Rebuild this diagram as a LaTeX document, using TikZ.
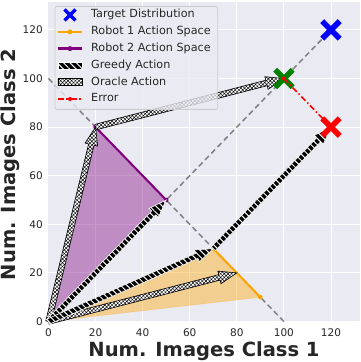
\documentclass[tikz,border=0pt]{standalone}
\usepackage{fontspec}
\setmainfont{DejaVu Sans}
\usepackage{tikz}
\usetikzlibrary{calc,positioning,shapes.misc,patterns.meta}
\definecolor{bgcol}{HTML}{EAEAF2}
\definecolor{txtcol}{HTML}{262626}
\definecolor{legedge}{HTML}{CCCCCC}
\definecolor{rbtorange}{HTML}{FFA500}
\definecolor{rbtpurple}{HTML}{800080}
\definecolor{mgreen}{HTML}{008000}
\newcommand{\actarrow}[3]{%
  \coordinate (ah) at ($(#3)!18pt!(#2)$);
  \path[#1] ($(#2)!2.8pt!90:(#3)$) -- ($(ah)!2.8pt!-90:(#2)$)
    -- ($(ah)!6.5pt!-90:(#2)$) -- (#3) -- ($(ah)!6.5pt!90:(#2)$)
    -- ($(ah)!2.8pt!90:(#2)$) -- ($(#2)!2.8pt!-90:(#3)$) -- cycle;}

\begin{document}
\begin{tikzpicture}[x=2.354pt, y=2.43pt,
    tick/.style={font=\fontsize{10.5}{10.5}\selectfont, text=txtcol, inner sep=0pt},
    axtitle/.style={font=\fontsize{19.5}{19.5}\selectfont\bfseries, text=txtcol, inner sep=0pt},
    legtext/.style={font=\fontsize{11.2}{11.2}\selectfont, text=txtcol, anchor=west, inner sep=0pt, text height=8pt, text depth=2pt},
    gridline/.style={white, line width=0.9pt},
    guide/.style={gray, line width=1.5pt, dash pattern=on 5.5pt off 3.5pt},
    xmark/.style={cross out, draw, line width=5.5pt, minimum size=12pt, inner sep=0pt},
    greedy/.style={preaction={fill=black}, pattern={Lines[angle=-45,distance=4.5pt,line width=1pt]}, pattern color=white, draw=white, line width=0.6pt},
    oracle/.style={preaction={fill=white}, pattern={Hatch[angle=45,distance=2.6pt,line width=0.45pt]}, pattern color=black, draw=black, line width=0.6pt},
    errline/.style={red, line width=1.6pt, dash pattern=on 6pt off 2.5pt on 1.5pt off 2.5pt},
    legbox/.style={draw=legedge, fill=bgcol, fill opacity=0.8, rounded corners=2pt, line width=0.8pt, inner sep=0pt}]
      \useasboundingbox (-48.5pt,-40.5pt) rectangle (311.5pt,321.5pt);
      \fill[bgcol] (0,0) rectangle (311.5pt,319.5pt);
      \foreach \v in {20,40,...,120} {
        \draw[gridline] (\v,0) -- (\v,131.5);
        \draw[gridline] (0,\v) -- (132.3,\v);
      }
      \foreach \v in {0,20,...,120} {
        \node[tick, anchor=north] (xt\v) at (\v,-2.7) {\v};
        \node[tick, anchor=east] (yt\v) at (-2.35,\v) {\v};
      }
      \node[axtitle, anchor=base] (xlab) at (155.5pt,-34.5pt) {Num. Images Class 1};
      \node[axtitle, anchor=base, rotate=90] (ylab) at (-32.5pt,157pt) {Num. Images Class 2};

      % points
      \coordinate (O) at (0,0);
      \coordinate (gA) at (70,30);
      \coordinate (oA) at (80,20);
      \coordinate (eA) at (90,10);
      \coordinate (gB) at (50,50);
      \coordinate (oB) at (20,80);
      \coordinate (gSum) at (120,80);
      \coordinate (oSum) at (100,100);
      \coordinate (tgt) at (120,120);
      \coordinate (d1) at (0,100);
      \coordinate (d2) at (100,0);

      % action spaces
      \fill[rbtorange, fill opacity=0.4, draw=rbtorange, draw opacity=0.4] (O) -- (gA) -- (eA) -- cycle;
      \fill[rbtpurple, fill opacity=0.4, draw=rbtpurple, draw opacity=0.4] (O) -- (oB) -- (gB) -- cycle;
      \draw[guide] (O) -- (tgt);
      \draw[guide] (d1) -- (d2);
      \draw[rbtorange, line width=2pt] (gA) -- (eA);
      \fill[rbtorange] (gA) circle (2.3pt) (eA) circle (2.3pt);
      \draw[rbtpurple, line width=2pt] (oB) -- (gB);
      \fill[rbtpurple] (oB) circle (2.3pt) (gB) circle (2.3pt);

      % actions
      \actarrow{oracle}{O}{oB}
      \actarrow{oracle}{O}{oA}
      \actarrow{greedy}{O}{gB}
      \actarrow{greedy}{O}{gA}
      \actarrow{greedy}{gA}{gSum}
      \actarrow{oracle}{oB}{oSum}

      \node[xmark, draw=blue] (mT) at (tgt) {};
      \node[xmark, draw=mgreen] (mO) at (oSum) {};
      \draw[errline] (oSum) -- (gSum);
      \fill[red] (oSum) circle (2pt);
      \node[xmark, draw=red] (mG) at (gSum) {};

      % legend
      \node[legbox, anchor=north west, minimum width=162.6pt, minimum height=103pt] (leg) at (6.2pt,315.5pt) {};
      \foreach \txt [count=\i] in {Target Distribution, Robot 1 Action Space, Robot 2 Action Space, Greedy Action, Oracle Action, Error}
        \node[legtext] (lt\i) at ($(leg.north west)+(36.3pt,{-9pt-16.8pt*(\i-1)})$) {\txt};
      \node[xmark, draw=blue, line width=3.5pt, minimum size=7.5pt] (hT) at ([xshift=-21pt]lt1.west) {};
      \draw[rbtorange, line width=2.5pt] ([xshift=-33pt]lt2.west) -- ([xshift=-9pt]lt2.west);
      \fill[rbtorange] ([xshift=-21pt]lt2.west) circle (2.5pt);
      \draw[rbtpurple, line width=2.5pt] ([xshift=-33pt]lt3.west) -- ([xshift=-9pt]lt3.west);
      \fill[rbtpurple] ([xshift=-21pt]lt3.west) circle (2.5pt);
      \path[greedy] ([xshift=-33pt,yshift=-3.5pt]lt4.west) rectangle ([xshift=-9pt,yshift=3.5pt]lt4.west);
      \path[oracle] ([xshift=-33pt,yshift=-3.5pt]lt5.west) rectangle ([xshift=-9pt,yshift=3.5pt]lt5.west);
      \draw[errline] ([xshift=-33pt]lt6.west) -- ([xshift=-9pt]lt6.west);
      \fill[red] ([xshift=-21pt]lt6.west) circle (2pt);
    \end{tikzpicture}
\end{document}
